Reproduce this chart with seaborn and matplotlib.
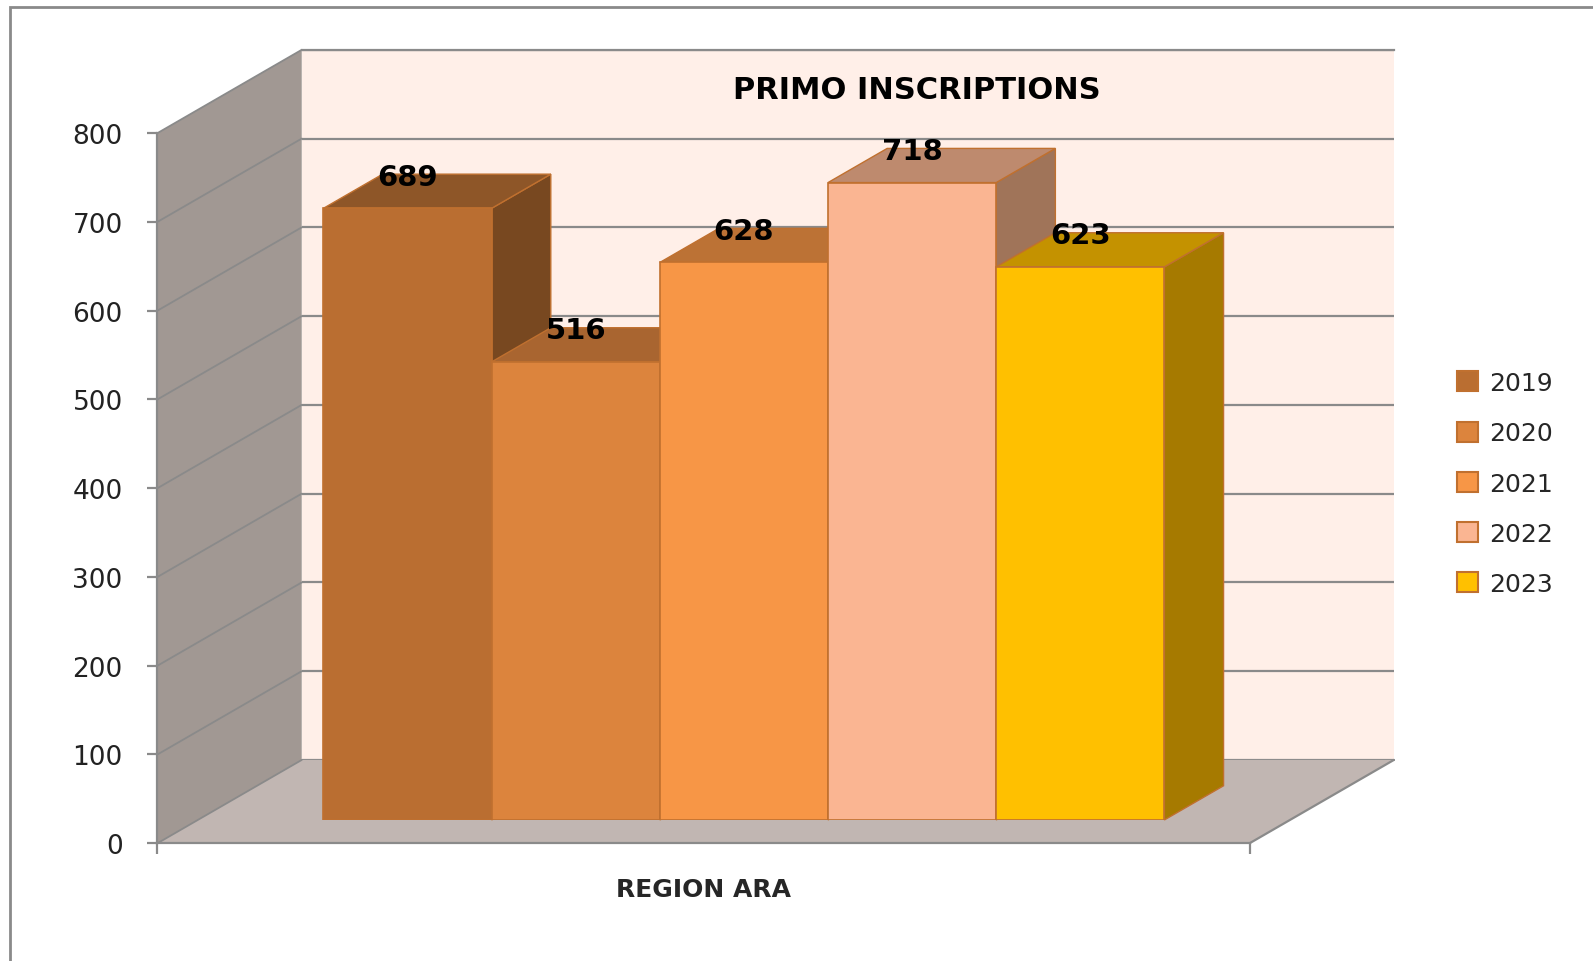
import numpy as np
import pandas as pd
import matplotlib
matplotlib.use("Agg")
import matplotlib.pyplot as plt
from matplotlib.patches import Polygon, Rectangle
import seaborn as sns

# data
years = ["2019", "2020", "2021", "2022", "2023"]
values = [689, 516, 628, 718, 623]
region = ["REGION ARA"]
yticks = [0, 100, 200, 300, 400, 500, 600, 700, 800]

front_cols = ["#BA6E31", "#DC843D", "#F79646", "#FAB592", "#FFC000"]
top_cols = ["#8E5628", "#A96530", "#BC7235", "#BE8A6E", "#C49200"]
side_cols = ["#784820", "#8E5428", "#A05E2C", "#A07459", "#A67A00"]
edge_col = "#C0702F"

df = pd.DataFrame({"region": region * len(years), "year": years, "value": values})

sns.set_theme(style="white")
plt.rcParams["font.family"] = ["DejaVu Sans"]

W, H = 1593, 962
S = W / 1568  # layout measured on the 1568 px preview
fig = plt.figure(figsize=(W / 100, H / 100), dpi=100)


def rect(l, r, y0, y1):
    # pixel box (preview coords, y down) -> figure fraction
    return [l * S / W, 1 - y0 * S / H, (r - l) * S / W, (y0 - y1) * S / H]


# front plane, back plane, and bar plane (depth vector 142,-82 px)
dvx, dvy = 142, -82
fl, fr, f0, f800 = 155, 1230, 831, 132
bar_d, bar_depth = 0.28, 0.41

ax_back = fig.add_axes(rect(fl + dvx, fr + dvx, f0 + dvy, f800 + dvy), zorder=0)
ax_front = fig.add_axes(rect(fl, fr, f0, f800), zorder=1)
ax_bar = fig.add_axes(rect(fl + bar_d * dvx, fr + bar_d * dvx,
                           f0 + bar_d * dvy, f800 + bar_d * dvy), zorder=2)

grid_col = "#8A8A8A"
for a in (ax_back, ax_front, ax_bar):
    a.set_xlim(-0.5, 0.5)
    a.set_ylim(0, 800)

# back wall
ax_back.set_facecolor("#FFEFE8")
ax_back.set_xticks([])
ax_back.set_yticks(yticks)
ax_back.set_yticklabels([])
ax_back.tick_params(left=False)
ax_back.grid(axis="y", color=grid_col, lw=1.6)
for s in ax_back.spines.values():
    s.set_visible(False)
ax_back.spines["bottom"].set_visible(True)
ax_back.spines["bottom"].set_color(grid_col)
ax_back.spines["top"].set_visible(True)
ax_back.spines["top"].set_color(grid_col)
ax_back.spines["top"].set_linewidth(1.6)
ax_back.text(0.063, 755, "PRIMO INSCRIPTIONS", ha="center", va="center",
             fontsize=22, fontweight="bold", color="black")

# front axes: ticks, labels, side wall and floor
ax_front.patch.set_alpha(0)
ax_front.set_yticks(yticks)
ax_front.tick_params(axis="y", left=True, length=7, width=1.6, color=grid_col,
                     labelsize=19, labelcolor="#222222", pad=18)
ax_front.set_xticks([-0.5, 0.5])
ax_front.set_xticklabels(["", ""])
ax_front.set_xticks([0], minor=True)
ax_front.set_xticklabels(region, minor=True, fontsize=18, fontweight="bold")
ax_front.tick_params(axis="x", which="major", bottom=True, length=8, width=1.6,
                     color=grid_col)
ax_front.tick_params(axis="x", which="minor", bottom=False, length=0, pad=24)
for s in ("top", "right"):
    ax_front.spines[s].set_visible(False)
for s in ("left", "bottom"):
    ax_front.spines[s].set_color(grid_col)
    ax_front.spines[s].set_linewidth(1.6)


def to_fig(a, x, y):
    return fig.transFigure.inverted().transform(a.transData.transform((x, y)))


def quad(pts, **kw):
    p = Polygon(pts, closed=True, transform=fig.transFigure, clip_on=False, **kw)
    ax_front.add_patch(p)


quad([to_fig(ax_front, -0.5, 0), to_fig(ax_front, -0.5, 800),
      to_fig(ax_back, -0.5, 800), to_fig(ax_back, -0.5, 0)],
     facecolor="#A19893", edgecolor="none", zorder=0)
quad([to_fig(ax_front, -0.5, 0), to_fig(ax_front, 0.5, 0),
      to_fig(ax_back, 0.5, 0), to_fig(ax_back, -0.5, 0)],
     facecolor="#C1B6B2", edgecolor="none", zorder=0)
for v in yticks:
    p0, p1 = to_fig(ax_front, -0.5, v), to_fig(ax_back, -0.5, v)
    ax_front.plot([p0[0], p1[0]], [p0[1], p1[1]], color=grid_col, lw=1.3,
                  transform=fig.transFigure, clip_on=False, zorder=1)
p0, p1 = to_fig(ax_front, 0.5, 0), to_fig(ax_back, 0.5, 0)
ax_front.plot([p0[0], p1[0]], [p0[1], p1[1]], color=grid_col, lw=1.6,
              transform=fig.transFigure, clip_on=False, zorder=1)

# bars
ax_bar.patch.set_alpha(0)
sns.barplot(data=df, x="region", y="value", hue="year", palette=front_cols,
            width=0.77, ax=ax_bar, legend=False, saturation=1,
            edgecolor=edge_col, linewidth=1.2)
ax_bar.set_xlim(-0.5, 0.5)
ax_bar.set_ylim(0, 800)
ax_bar.axis("off")

# depth offset of the bar, in bar-axes data units
bw_px = (fr - fl) * S
ddx = bar_depth * dvx * S / bw_px
ddy = -bar_depth * dvy * S / ((f0 - f800) * S / 800)

bars = [p for p in ax_bar.patches if isinstance(p, Rectangle)]
for i, (p, val) in enumerate(zip(bars, values)):
    x0 = p.get_x()
    x1 = x0 + p.get_width()
    h = p.get_height()
    side = Polygon([(x1, 0), (x1 + ddx, ddy), (x1 + ddx, h + ddy), (x1, h)],
                   closed=True, facecolor=side_cols[i], edgecolor=edge_col,
                   lw=1.0, clip_on=False, zorder=10 + 3 * i)
    top = Polygon([(x0, h), (x1, h), (x1 + ddx, h + ddy), (x0 + ddx, h + ddy)],
                  closed=True, facecolor=top_cols[i], edgecolor=edge_col,
                  lw=1.0, clip_on=False, zorder=11 + 3 * i)
    ax_bar.add_patch(side)
    ax_bar.add_patch(top)
    p.set_zorder(12 + 3 * i)
    ax_bar.text((x0 + x1) / 2, h + ddy - 3, str(val), ha="center", va="center",
                fontsize=21, fontweight="bold", color="black", zorder=40)

# legend
handles = [Rectangle((0, 0), 1, 1, facecolor=c, edgecolor=edge_col, lw=1.5)
           for c in front_cols]
fig.legend(handles, years, loc="center left",
           bbox_to_anchor=(1412 * S / W, 1 - 477 * S / H), frameon=False,
           fontsize=18, handlelength=0.85, handleheight=0.85, handletextpad=0.45,
           labelspacing=1.05)

# outer border
fig.add_artist(Rectangle((10 * S / W, -0.1), 1.2, 1 - 8 * S / H + 0.1,
                         transform=fig.transFigure, fill=False,
                         edgecolor="#8A8A8A", lw=2))

fig.savefig("out.png", dpi=100, facecolor="white")
